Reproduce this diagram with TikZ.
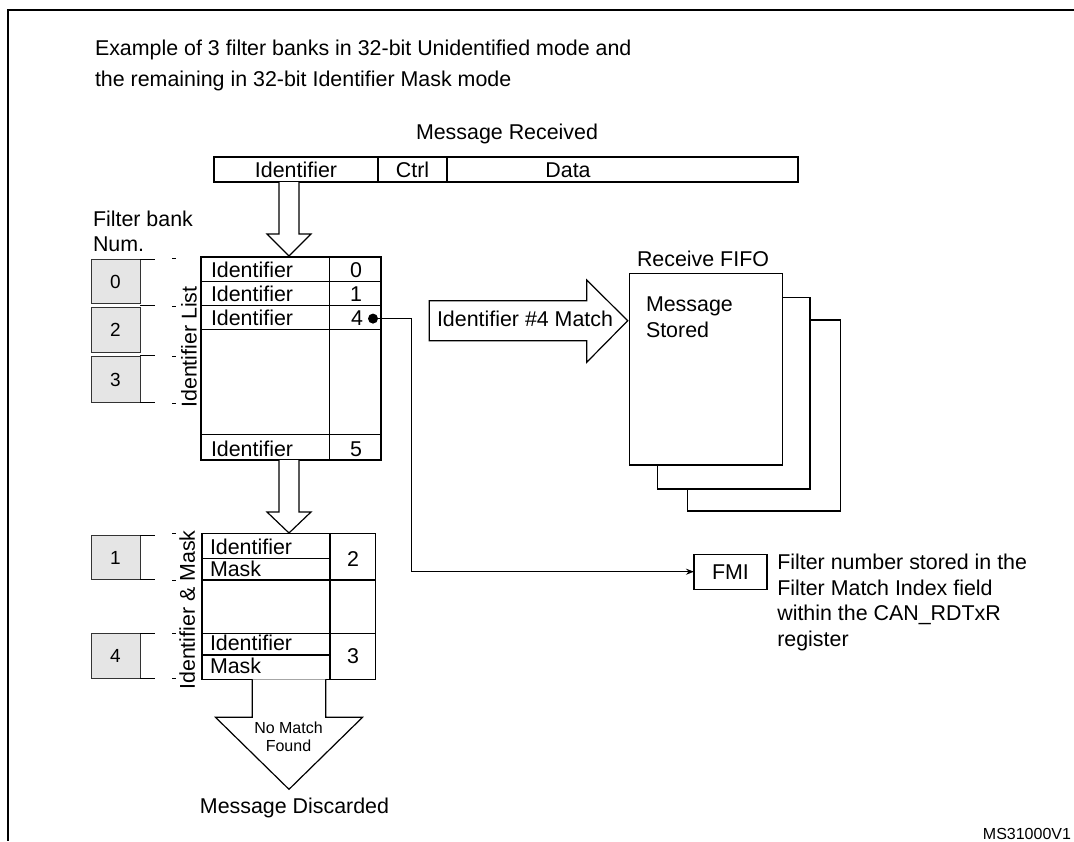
\documentclass[tikz,border=0pt]{standalone}
\usepackage{fontspec}
\setmainfont{Liberation Sans}
\usetikzlibrary{arrows.meta}
\newcommand\fmain{\fontsize{21.4pt}{25.7pt}\selectfont}
\newcommand\fnum{\fontsize{19pt}{22pt}\selectfont}
\newcommand\fsmall{\fontsize{16pt}{18.4pt}\selectfont}
\newcommand\fcode{\fontsize{16pt}{18pt}\selectfont}
\begin{document}
\begin{tikzpicture}[x=1pt,y=-1pt,
  every node/.style={inner sep=0pt, outer sep=0pt, font=\fmain},
  lw/.style={line width=1.4pt},
  bankbox/.style={draw=black!80, line width=1pt, fill=black!10, minimum width=49pt, minimum height=44.5pt, font=\fnum, text height=13.6pt, text depth=0pt},
  fieldbox/.style={draw, line width=1.4pt, minimum height=25pt, text height=15.3pt, text depth=0pt},
  hollow/.style={draw, line width=1.2pt, fill=white, line join=miter},
  page/.style={draw, line width=1.4pt, fill=white},
  txt/.style={anchor=base west},
  ctxt/.style={anchor=base},
  tick/.style={line width=1pt}]
\useasboundingbox (0,0) rectangle (1074,841);

% frame
\draw[line width=2pt] (1074,10) -- (8,10) -- (8,841);

% intro text
\node[txt] (intro1) at (95,55) {Example of 3 filter banks in 32-bit Unidentified mode and};
\node[txt] (intro2) at (95,86) {the remaining in 32-bit Identifier Mask mode};

% message received
\node[ctxt] (msgrx) at (507,139) {Message Received};
\node[fieldbox, minimum width=164pt] (fid) at (296,169.5) {Identifier};
\node[fieldbox, minimum width=69pt] (fctrl) at (412.5,169.5) {Ctrl};
\node[fieldbox, minimum width=351pt] (fdata) at (622.5,169.5) {};
\node[ctxt] (fdatatxt) at (568,177.2) {Data};

% hollow arrow 1
\draw[hollow] (279,182) -- (279,234) -- (267,234) -- (289,256) -- (311,234) -- (299,234) -- (299,182);

% filter bank heading
\node[txt] (fbh1) at (93,226) {Filter bank};
\node[txt] (fbh2) at (93,251.5) {Num.};

% identifier list table
\draw[lw] (201,257) rectangle (381,460);
\draw[lw] (329.5,257) -- (329.5,460);
\foreach \yy in {281.5,305.5,329.5,434.5} \draw[lw] (201,\yy) -- (381,\yy);
\node[txt] (l0) at (211,277.5) {Identifier};
\node[txt] (l1) at (211,301.5) {Identifier};
\node[txt] (l4) at (211,325.2) {Identifier};
\node[txt] (l5) at (211,456) {Identifier};
\node[ctxt] (n0) at (356,277.5) {0};
\node[ctxt] (n1) at (356,301.5) {1};
\node[ctxt] (n4) at (357,325.2) {4};
\node[ctxt] (n5) at (356,456) {5};
\node[circle, fill, minimum size=10pt] (dot) at (373,318.6) {};
\node[rotate=90] (idlist) at (189,347) {Identifier List};

% bank boxes
\node[bankbox] (b0) at (115.5,281.3) {0};
\node[bankbox] (b2) at (115.5,330) {2};
\node[bankbox, minimum height=46pt] (b3) at (115.5,379.5) {3};
\node[bankbox] (b1) at (115.5,557.3) {1};
\node[bankbox] (b4) at (115.5,655.8) {4};
\foreach \yy in {259,305.5,355,402.5,535,579.5,633.5,678.3} \draw[tick] (140,\yy) -- (155,\yy);
\foreach \yy in {258.3,306.7,356.7,403.3,533.3,580,633.3,678.3} \draw[tick] (172,\yy) -- (176,\yy);

% hollow arrow 2
\draw[hollow] (279,460) -- (279,512) -- (267,512) -- (289,533) -- (311,512) -- (299,512) -- (299,460);

% identifier & mask table
\draw[lw] (202,533.3) rectangle (375.5,679.3);
\draw[lw] (330,533.3) -- (330,679.3);
\draw[lw] (202,558.3) -- (330,558.3);
\draw[lw] (202,580) -- (375.5,580);
\draw[lw] (202,633.3) -- (375.5,633.3);
\draw[lw] (202,655) -- (330,655);
\node[txt] (m1i) at (210,554) {Identifier};
\node[txt] (m1m) at (210,576.7) {Mask};
\node[txt] (m2i) at (210,650.7) {Identifier};
\node[txt] (m2m) at (210,673.3) {Mask};
\node[ctxt] (mn2) at (353,566.7) {2};
\node[ctxt] (mn3) at (353,663.5) {3};
\node[rotate=90] (idmask) at (187.3,610) {Identifier \& Mask};

% no match arrow
\draw[hollow] (252.3,679.3) -- (252.3,717.3) -- (215.5,717.3) -- (289,789.3) -- (362.5,717.3) -- (325.7,717.3) -- (325.7,679.3);
\node[ctxt, font=\fsmall] (nomatch) at (288.5,733.3) {No Match};
\node[ctxt, font=\fsmall] (found) at (288.5,751.7) {Found};
\node[ctxt] (discard) at (294.5,813.3) {Message Discarded};

% match arrow
\draw[hollow] (429.3,300.7) -- (586.7,300.7) -- (586.7,280) -- (627.7,320.7) -- (586.7,362.3) -- (586.7,340.7) -- (429.3,340.7) -- cycle;
\node[txt] (matchtxt) at (437,326) {Identifier \#4 Match};

% receive fifo
\draw[page] (687.3,320) rectangle (840.7,511);
\draw[page] (657.3,297.7) rectangle (810,489);
\draw[page] (629.3,273.3) rectangle (782.7,465);
\node[txt] (fifo) at (637,266.7) {Receive FIFO};
\node[txt] (stored1) at (646,311.7) {Message};
\node[txt] (stored2) at (646,337.3) {Stored};

% FMI
\node[draw, line width=1.3pt, minimum width=73pt, minimum height=35pt, text height=15.3pt, text depth=0pt] (fmi) at (730.5,571.7) {FMI};
\coordinate (bend) at (411.7,318.6);
\draw[lw, -{Stealth[length=8pt,width=6pt]}] (dot.center) -- (bend) |- (fmi.west);
\node[anchor=north west, align=left] (fmitxt) at (777.3,554) {Filter number stored in the\\Filter Match Index field\\within the CAN\_RDTxR\\register};

\node[anchor=base east, font=\fcode] (code) at (1071,839) {MS31000V1};
\end{tikzpicture}
\end{document}
